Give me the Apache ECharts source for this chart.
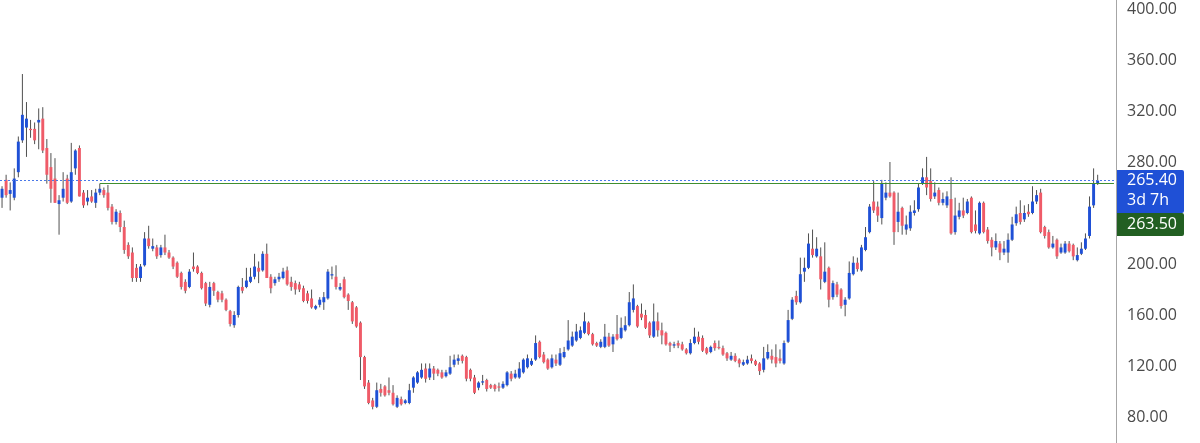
<!DOCTYPE html>
<html><head><meta charset="utf-8">
<script src="https://cdn.jsdelivr.net/npm/echarts@6/dist/echarts.min.js"></script>
<style>html,body{margin:0;padding:0;background:#fff;overflow:hidden}#c{width:1200px;height:443px}</style>
</head><body><div id="c"></div>
<script>
const opens = [
252,266,255,252,272,297,307,306,306,311,
314,291,276,267,247,252,267,249,275,291,
256,249,253,248,256,258,256,245,233,240,
229,215,209,197,189,199,220,212,213,207,
213,209,205,201,193,186,182,198,198,193,
185,168,185,178,177,172,163,152,160,182,
182,186,190,197,195,208,190,185,188,189,
195,186,185,184,181,177,173,165,168,170,
173,191,190,180,188,176,170,166,154,127,
107,93,88,102,104,101,99,88,94,91,
91,103,107,111,118,111,118,117,115,112,
114,121,124,128,127,117,111,103,107,109,
105,105,104,103,105,114,111,111,115,119,
121,125,139,129,125,119,125,121,127,133,
136,140,142,146,154,145,138,135,135,143,
137,145,142,148,152,164,167,161,160,154,
143,155,148,146,138,136,138,137,133,130,
138,143,142,134,131,138,135,134,130,125,
128,125,121,122,126,124,122,117,126,128,
127,126,122,139,157,175,170,194,197,212,
206,206,186,197,174,184,180,168,173,192,
201,195,211,225,249,245,236,252,256,256,
233,244,227,228,240,243,263,268,265,253,
258,248,246,251,225,237,242,240,252,231,
224,248,227,219,213,216,209,209,219,232,
240,235,241,240,249,256,229,225,213,219,
209,209,216,215,203,208,212,222,246,263
];
const closes = [
259,254,258,267,296,317,314,305,297,313,
289,270,259,248,250,259,248,272,289,253,
246,252,249,256,259,254,244,233,241,229,
211,206,189,189,198,220,214,214,206,213,
209,205,198,190,182,179,194,196,193,181,
169,182,179,172,172,164,153,160,182,179,
187,190,198,194,208,189,181,188,190,194,
184,182,180,180,171,171,166,167,172,174,
194,192,182,182,174,171,155,151,127,104,
91,88,101,99,97,99,90,95,90,93,
101,111,115,117,110,118,114,114,111,115,
119,125,126,124,110,110,99,107,108,102,
103,102,103,106,115,110,114,118,125,126,
124,138,127,123,118,126,122,130,131,140,
143,147,148,155,145,137,136,139,143,136,
143,141,150,152,170,173,151,158,150,144,
155,148,144,137,136,137,136,133,130,138,
143,139,132,130,135,134,134,129,126,128,
124,122,123,125,124,121,116,126,131,125,
122,124,138,156,172,170,192,197,216,207,
212,188,194,172,185,176,167,172,193,201,
196,213,221,245,242,238,263,256,253,225,
241,230,231,241,242,260,268,260,251,256,
248,251,253,224,238,242,238,249,225,226,
248,225,218,213,218,209,212,219,231,239,
233,240,239,249,254,225,222,213,216,206,
213,216,210,206,207,212,220,245,263,265.4
];
const lows = [
244,252,242,250,268,295,284,299,294,290,
287,263,248,248,223,249,247,248,270,253,
244,246,248,244,254,252,242,231,231,225,
208,204,186,186,186,198,212,210,204,205,
207,204,196,189,180,177,181,194,192,180,
167,166,175,170,170,163,151,150,158,177,
181,185,188,185,194,189,177,183,186,188,
183,179,176,178,170,169,165,164,166,164,
172,188,180,179,173,164,153,150,109,102,
90,86,87,96,96,97,89,87,89,90,
90,99,106,110,107,109,109,112,110,111,
113,119,121,122,108,108,98,101,105,100,
102,100,100,102,104,108,110,110,114,118,
120,124,126,122,117,118,120,120,126,132,
135,139,141,145,144,136,135,134,134,135,
131,140,141,147,151,162,150,156,149,142,
142,143,137,136,131,134,134,132,129,129,
137,137,131,129,130,132,133,128,124,124,
123,119,120,121,122,120,113,115,125,122,
119,122,121,138,156,168,169,186,196,205,
205,180,185,166,172,174,165,159,172,191,
194,194,210,224,240,233,231,250,252,215,
225,223,223,226,238,241,262,254,249,251,
246,246,244,223,223,235,236,239,224,224,
223,224,216,206,211,203,207,201,218,230,
231,233,237,239,247,224,220,212,212,204,
208,208,209,203,202,207,211,220,244,262
];
const highs = [
261,270,264,275,300,349,327,313,311,322,
323,298,287,283,254,272,270,295,290,293,
258,258,258,259,263,260,262,247,243,242,
234,217,213,200,200,225,230,220,215,215,
223,211,206,202,194,188,196,209,199,194,
186,186,186,179,179,173,164,163,183,189,
197,197,208,202,210,216,192,190,193,197,
198,190,187,186,183,179,180,168,174,178,
196,198,199,185,190,177,171,167,155,128,
109,95,107,106,105,111,105,97,96,94,
106,112,116,122,122,122,120,118,117,117,
128,129,129,129,128,118,113,108,113,110,
106,106,107,108,116,116,117,123,126,129,
126,144,140,131,126,129,129,134,135,156,
147,153,151,162,155,146,139,141,153,146,
145,160,158,159,178,184,168,169,164,155,
169,162,154,147,139,139,140,139,134,141,
150,147,144,135,136,140,140,136,131,131,
130,126,125,128,129,125,123,135,137,133,
137,133,140,164,174,179,205,205,224,227,
221,213,217,198,187,186,181,174,202,206,
205,215,229,247,265,249,266,264,280,257,
256,245,238,246,250,263,275,284,275,264,
260,256,257,268,252,248,252,251,253,242,
249,249,229,221,224,218,218,224,237,245,
250,246,247,261,258,259,230,227,222,220,
216,218,218,216,213,217,224,253,275,270
];
const yMin = 80, yMax = 400, yStep = 40;
const lastPrice = 265.40;
const lastCountdown = '3d 7h';
const levelPrice = 263.50;
const levelStartIndex = 24;
const emptySlots = 4;

const UP = '#1F50D6', DOWN = '#EF5B68', WICK = '#505050';
const n = opens.length;
const cats = [];
for (let i = 0; i < n + emptySlots; i++) cats.push(String(i));
const data = [];
for (let i = 0; i < n; i++) data.push([i, opens[i], closes[i], lows[i], highs[i]]);

const chart = echarts.init(document.getElementById('c'));
chart.setOption({
  animation: false,
  grid: [
    {left: -2, right: 84, top: 9, bottom: 26},
    {left: -2, right: 84, top: 0, bottom: 0}
  ],
  xAxis: [
    {type: 'category', data: cats, gridIndex: 0, show: false, boundaryGap: true},
    {type: 'value', gridIndex: 1, show: false}
  ],
  yAxis: [
    {type: 'value', gridIndex: 0, position: 'right', min: yMin, max: yMax, interval: yStep,
     axisLine: {show: false, onZero: false}, axisTick: {show: false}, splitLine: {show: false},
     axisLabel: {margin: 11, color: '#4a4a4a', fontSize: 16, fontFamily: 'Open Sans',
       formatter: v => v.toFixed(2)}},
    {type: 'value', gridIndex: 1, position: 'right',
     axisLine: {show: true, onZero: false, lineStyle: {color: '#a6a6a6', width: 1}},
     axisTick: {show: false}, axisLabel: {show: false}, splitLine: {show: false}}
  ],
  series: [{
    type: 'custom',
    xAxisIndex: 0, yAxisIndex: 0,
    data: data,
    encode: {x: 0, y: [1, 2, 3, 4]},
    renderItem: function (params, api) {
      const i = api.value(0);
      const o = api.value(1), c = api.value(2), l = api.value(3), h = api.value(4);
      const pO = api.coord([i, o]), pC = api.coord([i, c]);
      const pL = api.coord([i, l]), pH = api.coord([i, h]);
      const w = api.size([1, 0])[0] * 0.72;
      const top = Math.min(pO[1], pC[1]);
      const hgt = Math.max(1, Math.abs(pO[1] - pC[1]));
      return {type: 'group', children: [
        {type: 'line', shape: {x1: pH[0], y1: pH[1], x2: pL[0], y2: pL[1]},
         style: {stroke: WICK, lineWidth: 1}},
        {type: 'rect', shape: {x: pO[0] - w / 2, y: top, width: w, height: hgt},
         style: {fill: c >= o ? UP : DOWN}}
      ]};
    },
    markLine: {
      silent: true, symbol: 'none', label: {show: false},
      data: [
        {yAxis: lastPrice, lineStyle: {color: '#4a78e8', width: 1, type: [2, 2]}},
        [{coord: [levelStartIndex, levelPrice], lineStyle: {color: '#3f8f2f', width: 1, type: 'solid'}},
         {coord: [n + emptySlots - 1, levelPrice]}]
      ]
    }
  }]
});

const yLast = chart.convertToPixel({yAxisIndex: 0}, lastPrice);
const yLevel = chart.convertToPixel({yAxisIndex: 0}, levelPrice);
const boxX = 1117, boxW = 67, textX = 1127;
const blueTop = yLast - 10.5, blueH = 43;
const greenTop = Math.max(yLevel - 11.5, blueTop + blueH), greenH = 23;
const font = '16px "Open Sans"';
chart.setOption({
  graphic: [
    {type: 'rect', shape: {x: boxX, y: blueTop, width: boxW, height: blueH, r: [0, 2, 2, 0]}, style: {fill: UP}, z: 100},
    {type: 'text', x: textX, y: yLast, style: {text: lastPrice.toFixed(2), fill: '#fff', font: font, verticalAlign: 'middle'}, z: 101},
    {type: 'text', x: textX, y: yLast + 20, style: {text: lastCountdown, fill: '#fff', font: font, verticalAlign: 'middle'}, z: 101},
    {type: 'rect', shape: {x: boxX, y: greenTop, width: boxW, height: greenH, r: [0, 2, 2, 0]}, style: {fill: '#225F22'}, z: 100},
    {type: 'text', x: textX, y: greenTop + greenH / 2, style: {text: levelPrice.toFixed(2), fill: '#fff', font: font, verticalAlign: 'middle'}, z: 101}
  ]
});
</script>
</body></html>
